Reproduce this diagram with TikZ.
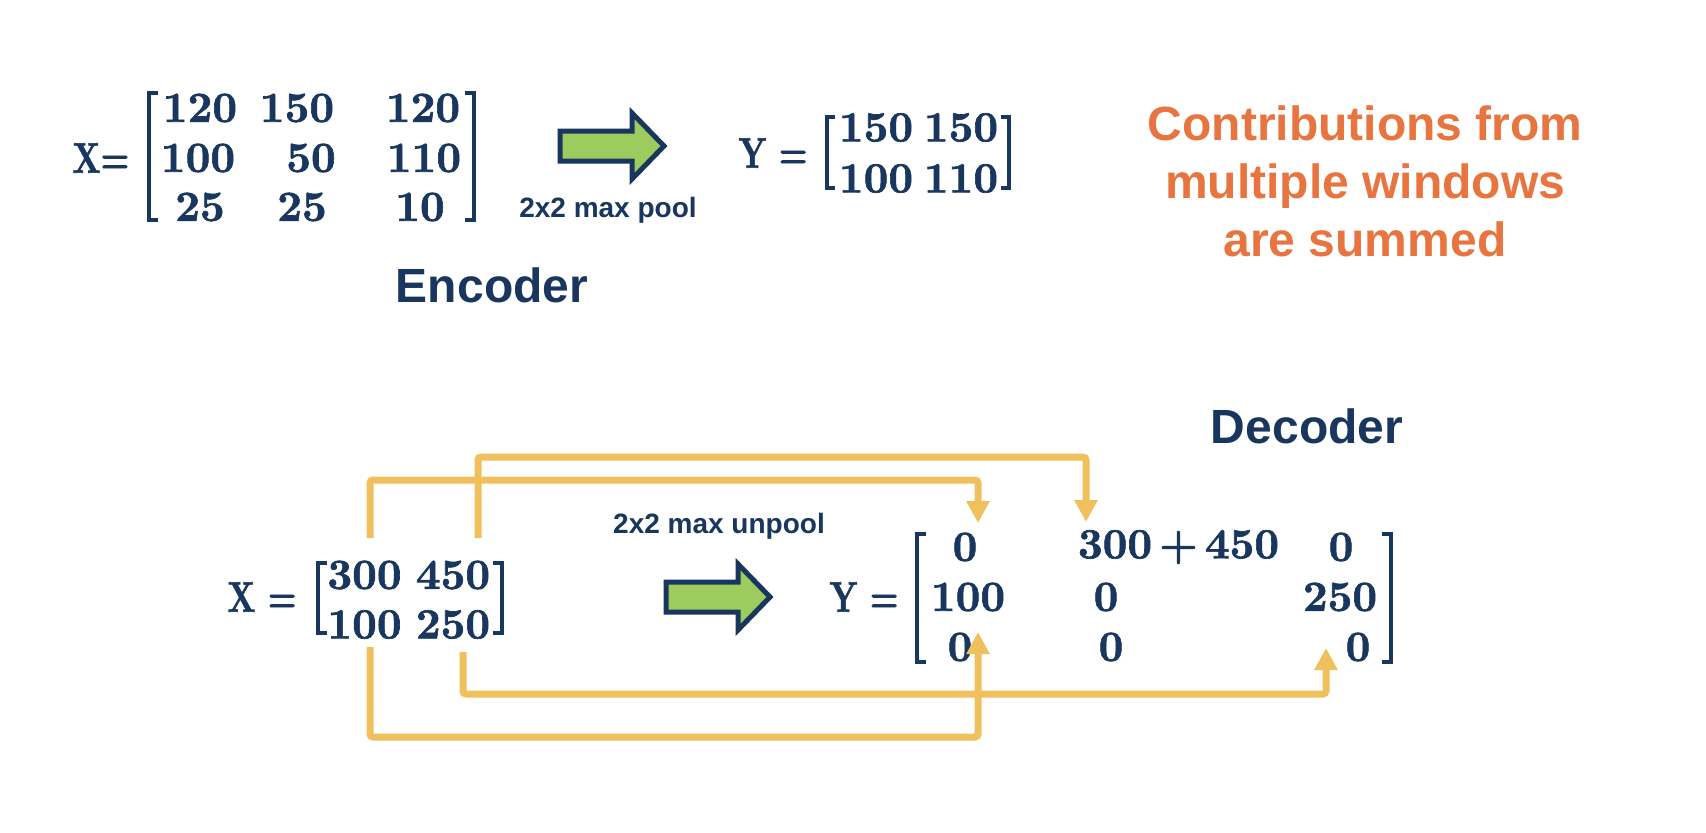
\documentclass[tikz,border=0pt]{standalone}
\usepackage{fontspec}
\usepackage{graphicx}
\newfontfamily\sansfam{Liberation Sans}
\newfontfamily\numfnt[FakeBold=1.5]{lmroman10-bold.otf}
\usetikzlibrary{arrows.meta}
\definecolor{navy}{RGB}{24,54,94}
\definecolor{gold}{RGB}{240,192,92}
\definecolor{orng}{RGB}{232,117,64}
\definecolor{grn}{RGB}{157,203,94}
\tikzset{
  num/.style={inner sep=0pt, text=navy, font=\numfnt\fontsize{21.5}{21.5}\selectfont},
  eqlbl/.style={inner sep=0pt, text=navy, font=\numfnt\fontsize{21.5}{21.5}\selectfont},
  lbl/.style={inner sep=0pt, text=navy, font=\sansfam\bfseries\fontsize{14}{14}\selectfont, anchor=base},
  ttl/.style={inner sep=0pt, text=navy, font=\sansfam\bfseries\fontsize{24}{24}\selectfont},
  note/.style={inner sep=0pt, text=orng, align=center, font=\sansfam\bfseries\fontsize{24}{29}\selectfont},
  brk/.style={draw=navy, line width=1.6pt},
  conn/.style={draw=gold, line width=3.5pt, rounded corners=1.5pt, -{Triangle[width=11pt,length=11pt]}},
  bigarrow/.style={draw=navy, fill=grn, line width=2.5pt, line join=miter},
}
\begin{document}
\begin{tikzpicture}[x=0.5pt,y=-0.5pt]
\useasboundingbox[fill=white] (0,0) rectangle (1706,832);

% ---------------- Encoder ----------------
\node[eqlbl] (xeq) at (101,158) {\scalebox{0.75}[1]{X=}};
\draw[brk] (158,93) -- (149,93) -- (149,220) -- (158,220);
\draw[brk] (465,93) -- (474,93) -- (474,220) -- (465,220);
\node[num] (a11) at (200,108) {120};
\node[num] (a12) at (297,108) {150};
\node[num] (a13) at (423,108) {120};
\node[num] (a21) at (198,158) {100};
\node[num] (a22) at (311,158) {50};
\node[num] (a23) at (424,158) {110};
\node[num] (a31) at (200,207) {25};
\node[num] (a32) at (302,207) {25};
\node[num] (a33) at (420,207) {10};

\draw[bigarrow] (560,131) -- (632,131) -- (632,113) -- (664,146) -- (632,179) -- (632,161) -- (560,161) -- cycle;
\node[lbl] (pool) at (608,217) {2x2 max pool};

\node[eqlbl] (yeq) at (773,153) {\scalebox{0.75}[1]{Y =}};
\draw[brk] (835,117) -- (827,117) -- (827,188) -- (835,188);
\draw[brk] (1001,117) -- (1009,117) -- (1009,188) -- (1001,188);
\node[num] (b11) at (876,127.5) {150};
\node[num] (b12) at (961,127.5) {150};
\node[num] (b21) at (876,178.5) {100};
\node[num] (b22) at (961,178.5) {110};

\node[ttl] (enc) at (492,285) {Encoder};
\node[note] (contrib) at (1365,181) {Contributions from\\multiple windows\\are summed};

% ---------------- Decoder ----------------
\node[ttl] (dec) at (1307,426) {Decoder};

\node[eqlbl] (xeq2) at (262,597) {\scalebox{0.75}[1]{X =}};
\draw[brk] (327,563) -- (318,563) -- (318,633) -- (327,633);
\draw[brk] (493,563) -- (502,563) -- (502,633) -- (493,633);
\node[num] (c11) at (364.5,575) {300};
\node[num] (c12) at (453,575) {450};
\node[num] (c21) at (364.5,624.5) {100};
\node[num] (c22) at (453,624.5) {250};

\draw[bigarrow] (666,582) -- (738,582) -- (738,564) -- (770,597) -- (738,630) -- (738,612) -- (666,612) -- cycle;
\node[lbl] (unpool) at (719,533) {2x2 max unpool};

\node[eqlbl] (yeq2) at (864,597) {\scalebox{0.75}[1]{Y =}};
\draw[brk] (926,534) -- (917,534) -- (917,662) -- (926,662);
\draw[brk] (1382,534) -- (1391,534) -- (1391,662) -- (1382,662);
\node[num] (d11) at (965,547) {0};
\node[num] (d12) at (1178.5,547) {300\,+\,450};
\node[num] (d13) at (1341,547) {0};
\node[num] (d21) at (968,597) {100};
\node[num] (d22) at (1106,597) {0};
\node[num] (d23) at (1340,597) {250};
\node[num] (d31) at (960,647) {0};
\node[num] (d32) at (1111,647) {0};
\node[num] (d33) at (1358,647) {0};

% connector ends
\coordinate (s300) at (370,538);
\coordinate (s450) at (478,538);
\coordinate (s100) at (370,647);
\coordinate (s250) at (463,652);
\coordinate (t11) at (978,523);
\coordinate (t12) at (1086,522);
\coordinate (t31) at (978,632);
\coordinate (t33) at (1326,648);

\draw[conn] (s450) -- ++(0,-81) -| (t12);
\draw[conn] (s300) -- ++(0,-58) -| (t11);
\draw[conn] (s250) -- ++(0,42) -| (t33);
\draw[conn] (s100) -- ++(0,90) -| (t31);
\end{tikzpicture}
\end{document}
